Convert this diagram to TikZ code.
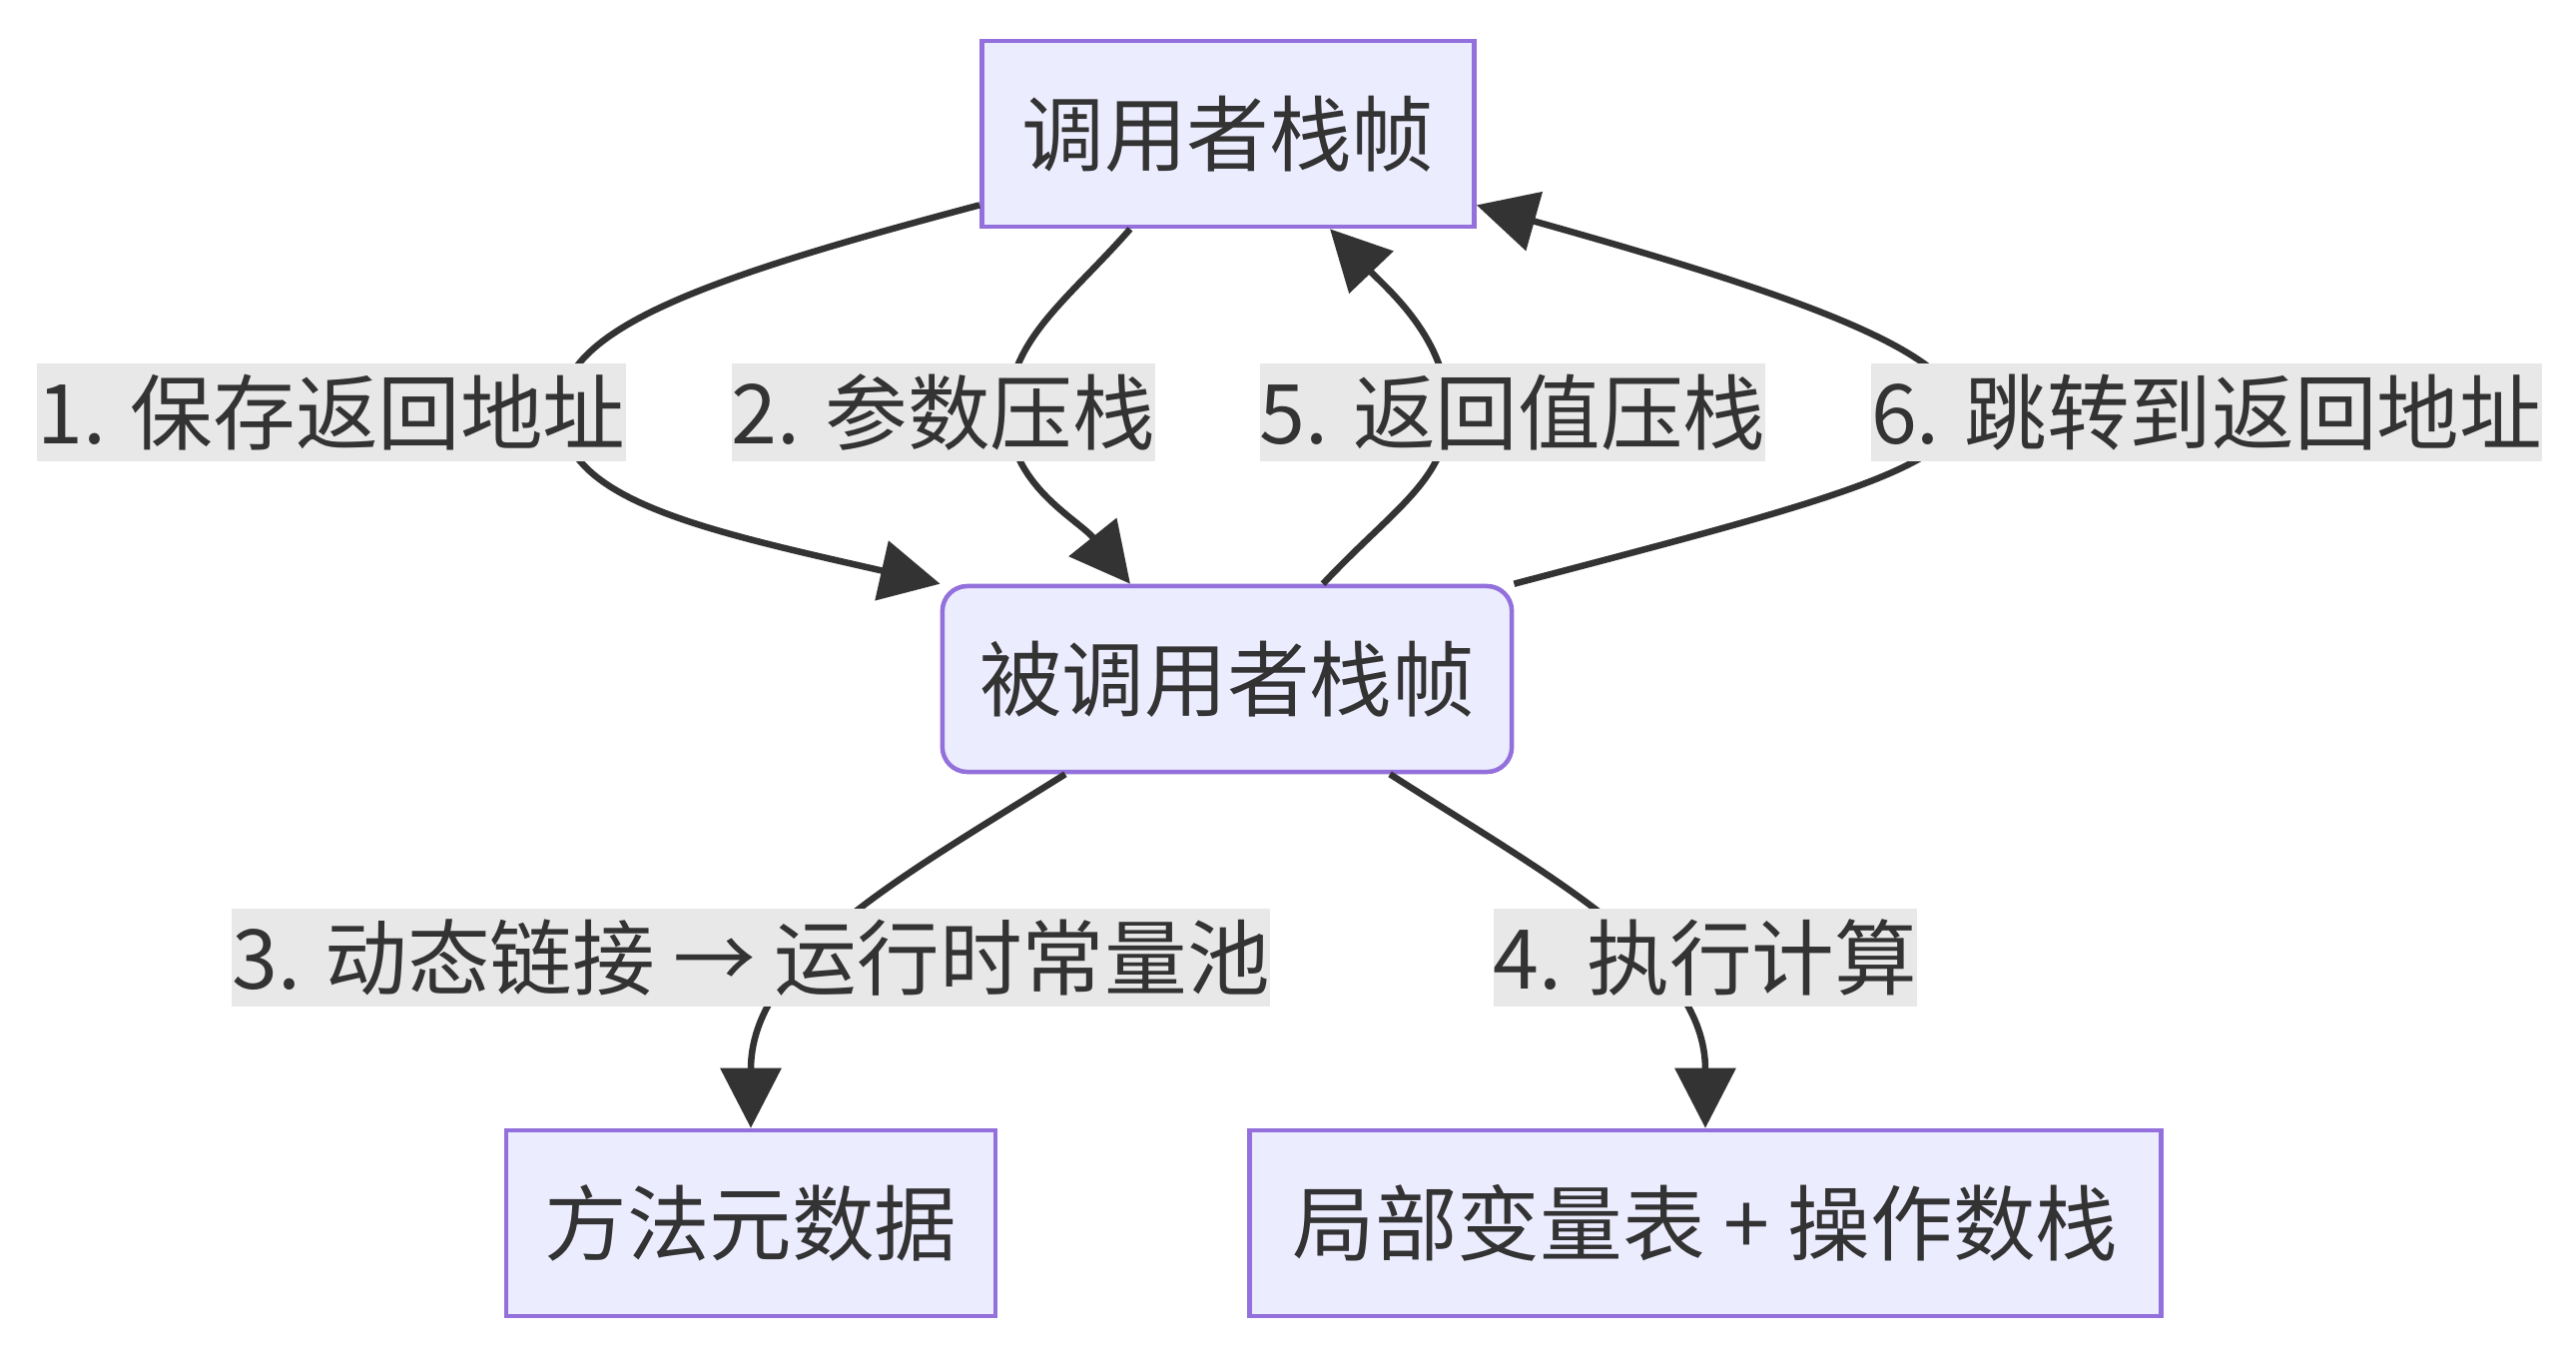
\documentclass[tikz,border=0pt]{standalone}
\usepackage{fontspec}
\usetikzlibrary{arrows.meta}
\newfontfamily\cjk{Noto Sans CJK SC}
\definecolor{boxfill}{HTML}{ECECFF}
\definecolor{boxline}{HTML}{9370DB}
\definecolor{lblfill}{HTML}{E8E8E8}
\definecolor{ink}{HTML}{333333}
\tikzset{
  stackbox/.style={draw=boxline, fill=boxfill, line width=0.045cm, text=ink,
    font=\cjk\fontsize{23.5}{28}\selectfont, minimum height=1.86cm, inner sep=0pt},
  edgelabel/.style={fill=lblfill, text=ink, font=\cjk\fontsize{23.5}{28}\selectfont,
    inner xsep=0pt, inner ysep=0pt, minimum height=0.98cm},
  callarrow/.style={draw=ink, line width=0.065cm,
    -{Triangle[length=0.6cm, width=0.6cm]}}
}
\newcommand{\cadre}[6][]{
  \node[stackbox, minimum width=#5, #1] (#2) at (#3,#4) {#6};
}
\newcommand{\etiq}[4]{
  \node[edgelabel] (#1) at (#2,#3) {#4};
}

\begin{document}
\begin{tikzpicture}[x=0.01cm, y=-0.01cm]

  \useasboundingbox[fill=white] (0,0) rectangle (2580,1360);

  % Frames
  % ======
  \cadre{caller}{1230}{134}{4.93cm}{调用者栈帧}
  \cadre[rounded corners=0.25cm]{callee}{1229}{680}{5.70cm}{被调用者栈帧}
  \cadre{meta}{752}{1225}{4.90cm}{方法元数据}
  \cadre{locals}{1708}{1225}{9.12cm}{局部变量表 + 操作数栈}

  % Calls
  % =====

  % 1 -- 2
  \draw[callarrow] (caller.196) .. controls (700,280) and (560,330) .. (562,413)
    .. controls (564,500) and (700,530) .. (callee.north west);
  \draw[callarrow] ([xshift=-0.98cm]caller.south) .. controls (1070,300) and (1010,340) .. (1010,413)
    .. controls (1010,486) and (1080,520) .. ([xshift=-0.97cm]callee.north);

  % 3 -- 4
  \draw[callarrow] ([xshift=-1.62cm]callee.south) .. controls (900,880) and (752,960) .. (meta.north);
  \draw[callarrow] ([xshift=1.63cm]callee.south) .. controls (1555,880) and (1708,960) .. (locals.north);

  % 5 -- 6
  \draw[callarrow] ([xshift=0.96cm]callee.north) .. controls (1395,510) and (1450,480) .. (1450,413)
    .. controls (1450,340) and (1390,290) .. ([xshift=1.02cm]caller.south);
  \draw[callarrow] (callee.north east) .. controls (1800,510) and (1962,470) .. (1962,413)
    .. controls (1962,350) and (1780,290) .. (caller.-16);

  % Labels
  % ======
  \etiq{save}{332}{413}{1. 保存返回地址}
  \etiq{push}{945}{413}{2. 参数压栈}
  \etiq{link}{752}{959}{3. 动态链接 → 运行时常量池}
  \etiq{exec}{1708}{959}{4. 执行计算}
  \etiq{ret}{1515}{413}{5. 返回值压栈}
  \etiq{jump}{2210}{413}{6. 跳转到返回地址}

\end{tikzpicture}
\end{document}
